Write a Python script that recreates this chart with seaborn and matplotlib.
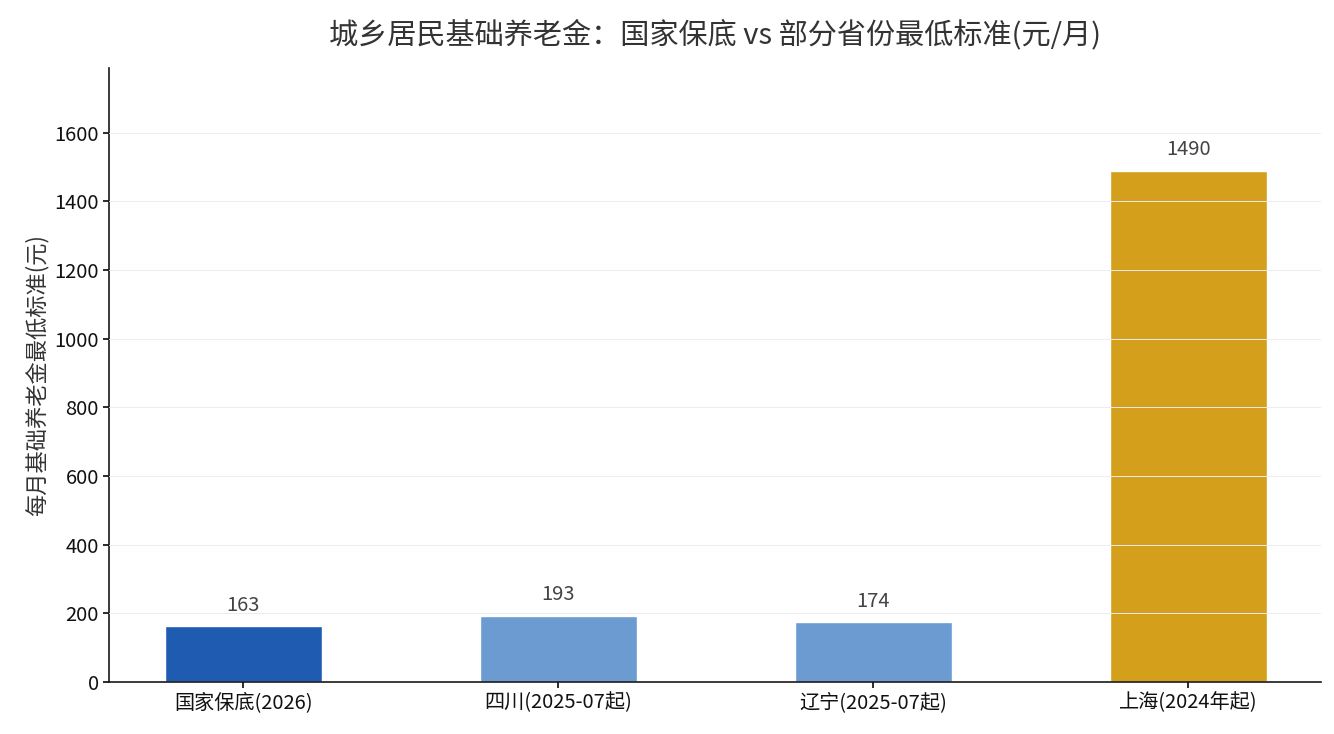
import matplotlib
matplotlib.use("Agg")
import matplotlib.pyplot as plt
import seaborn as sns
import pandas as pd

categories = ["国家保底(2026)", "四川(2025-07起)", "辽宁(2025-07起)", "上海(2024年起)"]
values = [163, 193, 174, 1490]
colors = ["#1f5bb0", "#6b9bd1", "#6b9bd1", "#d4a01c"]

sns.set_theme(style="white")
plt.rcParams['font.family'] = ['Noto Sans CJK SC', 'DejaVu Sans']

fig = plt.figure(figsize=(13.34, 7.34), dpi=100)
ax = fig.add_axes([0.082, 0.071, 0.908, 0.836])
df = pd.DataFrame({"cat": categories, "val": values})
sns.barplot(data=df, x="cat", y="val", hue="cat", palette=colors, width=0.5,
            legend=False, ax=ax, saturation=1)
ax.set_xlim(-0.425, 3.42)
ax.set_ylim(0, 1788)
ax.set_yticks(range(0, 1601, 200))
ax.yaxis.grid(True, color="#ececec", linewidth=0.7, zorder=3)
ax.set_axisbelow(False)
for s in ["top", "right"]:
    ax.spines[s].set_visible(False)
for s in ["left", "bottom"]:
    ax.spines[s].set_color("#222222")
ax.tick_params(axis="both", labelsize=14.5, colors="#111111", length=4, left=True, bottom=True)
ax.set_xlabel("")
ax.set_ylabel("每月基础养老金最低标准(元)", fontsize=16, color="#333333")
ax.set_title("城乡居民基础养老金：国家保底 vs 部分省份最低标准(元/月)", fontsize=21, color="#333333", pad=18)
for i, v in enumerate(values):
    ax.text(i, v + 30, str(v), ha="center", va="bottom", fontsize=14.5, color="#444444")
fig.savefig("out.png", dpi=100)
